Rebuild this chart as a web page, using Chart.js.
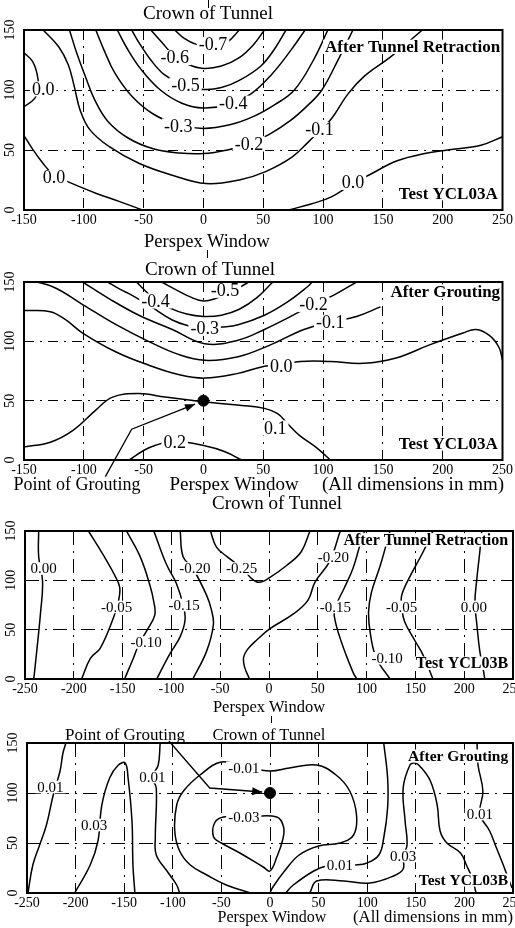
<!DOCTYPE html>
<html lang="en">
<head>
<meta charset="UTF-8">
<title>Settlement contours YCL03A / YCL03B</title>
<script src="https://cdn.jsdelivr.net/npm/chart.js@4.4.1/dist/chart.umd.min.js"></script>
<style>
    html, body { margin: 0; padding: 0; background: #fff; overflow: hidden; width: 515px; height: 928px; }
    canvas { position: absolute; left: 0; }
    .note { position: absolute; font-family: "Liberation Serif", "Times New Roman", serif; color: #000; white-space: nowrap; transform: translate(-50%, -50%); }
    .mark { position: absolute; width: 1px; background: #000; }
</style>
</head>
<body>
<canvas id="c1" width="515" height="248" style="top:0"></canvas>
<canvas id="c2" width="515" height="240" style="top:250px"></canvas>
<canvas id="c3" width="540" height="225" style="top:490px"></canvas>
<canvas id="c4" width="540" height="213" style="top:715px"></canvas>

<div class="mark" style="left:208px; top:0; height:8px"></div>
<div class="note" style="left:208px; top:13px; font-size:19px">Crown of Tunnel</div>
<div class="note" style="left:207px; top:241px; font-size:18.5px">Perspex Window</div>
<div class="mark" style="left:207px; top:250px; height:8px"></div>
<div class="note" style="left:210px; top:269px; font-size:19px">Crown of Tunnel</div>
<div class="note" style="left:77px; top:484px; font-size:18px">Point of Grouting</div>
<div class="note" style="left:234px; top:484px; font-size:19px">Perspex Window</div>
<div class="note" style="left:413px; top:484px; font-size:19px">(All dimensions in mm)</div>
<div class="mark" style="left:269px; top:491px; height:6px"></div>
<div class="note" style="left:277px; top:503px; font-size:19px">Crown of Tunnel</div>
<div class="note" style="left:269px; top:707px; font-size:16.5px">Perspex Window</div>
<div class="mark" style="left:271px; top:716px; height:7px"></div>
<div class="note" style="left:125px; top:735px; font-size:17px">Point of Grouting</div>
<div class="note" style="left:269px; top:735px; font-size:16.5px">Crown of Tunnel</div>
<div class="note" style="left:272px; top:917px; font-size:16px">Perspex Window</div>
<div class="note" style="left:433px; top:917px; font-size:16.7px">(All dimensions in mm)</div>

<script>
    // tick labels (mm)
    const xTicksA = [-150, -100, -50, 0, 50, 100, 150, 200, 250];
    const xTicksB = [-250, -200, -150, -100, -50, 0, 50, 100, 150, 200, 250];
    const yTicks = [0, 50, 100, 150];

    // ---- YCL03A, after tunnel retraction: contour levels and traced lines [x, y] in mm
    const p1Levels = [-0.7, -0.6, -0.5, -0.4, -0.3, -0.2, -0.1, 0.0, 0.0, 0.0];
    const p1Lines = [
        [[-24,150],[-16,143],[-6,138],[8,136],[20,140],[30,150]],
        [[-44,150],[-35,140],[-24,128],[-12,121],[0,118],[15,120],[30,127],[42,138],[51,150]],
        [[-60,150],[-53,138],[-44,125],[-33,113],[-17,104],[0,100.5],[15,102],[30,108],[48,120],[60,135],[69,150]],
        [[-72,150],[-64,135],[-52,117],[-36,100],[-18,89],[0,85],[22,88],[40,97],[57,113],[73,133],[85,150]],
        [[-90,150],[-83,133],[-74,114],[-60,95],[-42,80],[-21,71],[0,68],[22,71],[42,78],[60,88],[76,100],[92,125],[104,150]],
        [[-112,150],[-106,131],[-99,112],[-91,92],[-80,74],[-63,60],[-42,51],[-20,47.5],[0,47],[20,50],[38,55],[55,63],[72,74],[87,87],[99,100],[113,126],[125,150]],
        [[-134,150],[-121,136],[-113,121],[-108,103],[-103,83],[-95,67],[-79,53],[-54,39],[-26,29],[2,22],[30,25],[52,32],[74,44],[88,57],[98,67],[107,76],[121,97],[135,112],[157,128],[183,150]],
        [[-150,131],[-143,124],[-139,113],[-138,101],[-141,93],[-150,86]],
        [[-150,62],[-143,51],[-135,40],[-125,29],[-112,23],[-90,14],[-70,7],[-51,0]],
        [[71,0],[90,5],[107,11],[125,22],[140,30],[162,41],[185,47],[204,50],[232,54],[250,61]]
    ];
    const p1LabelAt = [[8,138],[-24,127],[-15,104],[25,89],[-21,70],[38,55],[97,67],[-134,101],[-125,27],[125,23]];

    // ---- YCL03A, after grouting
    const p2Levels = [-0.5, -0.4, -0.3, -0.2, -0.1, 0.0, 0.1, 0.2];
    const p2Lines = [
        [[-35,150],[-22,143],[-10,137],[0,134],[10,136],[21,141],[31,146],[38,150]],
        [[-56,150],[-48,142],[-40,135],[-28,128],[-14,123],[0,121],[15,122],[30,127],[45,137],[58,150]],
        [[-80,150],[-70,144],[-60,139],[-45,130],[-26,118],[-12,113],[1,111],[15,112],[29,114],[51,122],[70,133],[87,146],[91,150]],
        [[-101,150],[-79,136],[-54,122],[-26,110],[1,98],[29,101],[51,110],[73,121],[92,131],[109,139],[128,150]],
        [[-150,152],[-126,146],[-101,131],[-73,114],[-46,100],[-21,89],[1,84],[29,87],[56,97],[84,110],[106,116],[128,121],[148,129]],
        [[-150,126],[-128,125],[-115,118],[-101,107],[-73,91],[-46,80],[-21,72],[1,69],[29,73],[51,79],[65,80],[81,83],[106,83],[134,81.5],[161,86],[189,97],[217,107],[228,110],[239,105],[247,95],[250,84]],
        [[-150,11],[-128,15],[-109,25],[-90,42],[-76,53],[-54,56],[-32,53],[-12,50.5],[0,49],[10,48],[32,46],[51,43.5],[62,39],[70,31],[80,21],[95,10],[106,0]],
        [[-62,0],[-50,8],[-40,12.5],[-24,15.5],[1,12],[18,7],[32,0]]
    ];
    const p2LabelAt = [[18,143],[-40,134],[1,111],[92,131],[106,116],[65,79],[60,27],[-24,15]];
    const p2Grout = [[0, 50]];
    const p2Arrow = [[-82,-14],[-60,26],[-7,47]];

    // ---- YCL03B, after tunnel retraction
    const p3Levels = [0.0, -0.05, -0.10, -0.15, -0.20, -0.25, -0.20, -0.15, -0.10, -0.05, 0.0];
    const p3Lines = [
        [[-236,150],[-236,124],[-232,99],[-234,68],[-238,28],[-241,0]],
        [[-185,150],[-170,126],[-158,105],[-153,93],[-154,80],[-159,63],[-173,31],[-183,21],[-192,0]],
        [[-146,150],[-132,124],[-122,95],[-118,78],[-117,65],[-124,51],[-133,36],[-139,21],[-148,0]],
        [[-118,150],[-105,116],[-95,97],[-88,75],[-86,60],[-91,43],[-103,23],[-115,0]],
        [[-91,150],[-88,124],[-78,112],[-64,85],[-59,70],[-57,55],[-64,28],[-78,0]],
        [[-60,150],[-54,134],[-43,124],[-27,112],[-18,102],[-10,98],[1,103],[18,115],[33,129],[42,150]],
        [[-20,0],[-25,12],[-26,22],[-22,30],[-12,40],[1,51],[25,66],[40,80],[47,98],[62,119],[73,150]],
        [[98,150],[93,135],[86,112],[77,92],[68,73],[67,63],[74,38],[86,7],[90,0]],
        [[124,150],[122,143],[114,115],[105,88],[102,68],[104,45],[110,21],[124,0]],
        [[168,150],[158,129],[145,105],[136,85],[136,73],[139,58],[150,38],[158,24],[168,0]],
        [[218,150],[216,129],[213,102],[211,78],[213,55],[216,28],[220,7],[221,0]]
    ];
    const p3LabelAt = [[-231,112],[-156,73],[-126,37],[-87,75],[-76,112],[-28,112],[66,124],[68,73],[121,21],[136,73],[210,73]];

    // ---- YCL03B, after grouting
    const p4Levels = [0.01, 0.03, 0.01, -0.01, -0.03, 0.01, 0.03, 0.01];
    const p4Lines = [
        [[-210,150],[-213,140],[-216,122],[-223,98],[-230,68],[-237,48],[-244,28],[-249,0]],
        [[-201,0],[-185,28],[-177,52],[-173,88],[-165,115],[-156,128],[-149,130],[-146,115],[-142,72],[-141,28],[-139,0]],
        [[-113,150],[-115,128],[-121,116],[-117,105],[-118,55],[-117,38],[-106,22],[-96,8],[-93,0]],
        [[-20,0],[-45,8],[-65,18],[-82,28],[-93,42],[-98,62],[-96,88],[-89,102],[-72,118],[-50,131],[-26,126],[0,122],[20,125],[48,128],[68,118],[82,102],[89,78],[86,58],[72,50],[50,47],[30,38],[15,22],[3,6],[0,0]],
        [[-24,76],[-48,76],[-57,70],[-58,56],[-50,50],[-31,40],[-7,26],[0,22],[7,36],[13,53],[14,66],[7,76],[-24,76]],
        [[16,0],[24,8],[45,22],[58,27],[72,28],[88,28],[100,30],[112,38],[117,55],[121,85],[121,115],[117,150]],
        [[41,0],[48,12],[76,12],[103,10],[127,17],[137,24],[137,37],[141,48],[139,72],[137,105],[144,128],[149,130],[154,127],[165,112],[172,88],[175,62],[182,50],[196,40],[202,28],[208,15],[212,0]],
        [[213,150],[214,128],[219,102],[216,79],[226,62],[233,45],[240,28],[245,15],[249,5]]
    ];
    const p4LabelAt = [[-226,106],[-181,68],[-121,116],[-27,125],[-27,76],[72,28],[137,37],[216,79]];
    const p4Grout = [[0, 100]];
    const p4Arrow = [[-104,152],[-62,105],[-8,101]];

    Chart.defaults.font.family = '"Liberation Serif", "Times New Roman", serif';
    Chart.defaults.color = '#000';

    const decor = {
        id: 'decor',
        afterDatasetsDraw(chart, args, o) {
            const {ctx, chartArea: a, scales: {x, y}} = chart;
            ctx.save();
            ctx.textAlign = 'center';
            ctx.textBaseline = 'middle';
            ctx.font = o.labelSize + 'px "Liberation Serif", serif';
            o.labels.forEach(l => {
                const px = x.getPixelForValue(l.x), py = y.getPixelForValue(l.y);
                const w = ctx.measureText(l.text).width;
                ctx.fillStyle = '#fff';
                ctx.fillRect(px - w / 2 - 2, py - o.labelSize * 0.42, w + 4, o.labelSize * 0.84);
                ctx.fillStyle = '#000';
                ctx.fillText(l.text, px, py + 1);
            });
            ctx.font = 'bold ' + o.noteSize + 'px "Liberation Serif", serif';
            ctx.textAlign = 'right';
            o.notes.forEach(n => {
                const px = x.getPixelForValue(n.x), py = y.getPixelForValue(n.y);
                const w = ctx.measureText(n.text).width;
                ctx.fillStyle = '#fff';
                ctx.fillRect(px - w - 2, py - o.noteSize * 0.42, w + 4, o.noteSize * 0.84);
                ctx.fillStyle = '#000';
                ctx.fillText(n.text, px, py + 1);
            });
            if (o.arrow) {
                const pts = o.arrow.map(p => [x.getPixelForValue(p[0]), y.getPixelForValue(p[1])]);
                ctx.strokeStyle = '#000';
                ctx.lineWidth = 1.3;
                ctx.beginPath();
                pts.forEach((p, i) => i ? ctx.lineTo(p[0], p[1]) : ctx.moveTo(p[0], p[1]));
                ctx.stroke();
                const [x1, y1] = pts[pts.length - 2], [x2, y2] = pts[pts.length - 1];
                const ang = Math.atan2(y2 - y1, x2 - x1);
                ctx.beginPath();
                ctx.moveTo(x2, y2);
                ctx.lineTo(x2 - 10 * Math.cos(ang) + 4 * Math.sin(ang), y2 - 10 * Math.sin(ang) - 4 * Math.cos(ang));
                ctx.lineTo(x2 - 10 * Math.cos(ang) - 4 * Math.sin(ang), y2 - 10 * Math.sin(ang) + 4 * Math.cos(ang));
                ctx.closePath();
                ctx.fillStyle = '#000';
                ctx.fill();
            }
            ctx.lineWidth = 2;
            ctx.strokeStyle = '#000';
            ctx.strokeRect(a.left, a.top, a.right - a.left, a.bottom - a.top);
            ctx.restore();
        }
    };

    function pts(arr) { return arr.map(p => ({x: p[0], y: p[1]})); }

    function gridColor(ticks) {
        return c => (c.tick && (c.tick.value === ticks[0] || c.tick.value === ticks[ticks.length - 1])) ? 'rgba(0,0,0,0)' : '#000';
    }

    function makePanel(id, p) {
        const datasets = p.lines.map(line => ({
            data: pts(line), showLine: true, borderColor: '#000', borderWidth: 1.5,
            pointRadius: 0, tension: 0.4, fill: false
        }));
        if (p.grout) {
            datasets.push({data: pts(p.grout), showLine: false, pointRadius: 5.5, pointBackgroundColor: '#000', pointBorderColor: '#000'});
        }
        const labels = p.levels.map((v, i) => ({text: v.toFixed(p.dec), x: p.labelAt[i][0], y: p.labelAt[i][1]}));
        const cv = document.getElementById(id);
        const W = cv.width, H = cv.height;
        return new Chart(cv, {
            type: 'scatter',
            data: {datasets: datasets},
            options: {
                responsive: false, animation: false, devicePixelRatio: 1,
                layout: {padding: {top: p.area.top, right: W - p.area.right, left: 0, bottom: 0}},
                plugins: {
                    legend: {display: false}, tooltip: {enabled: false},
                    decor: {labels: labels, notes: p.notes, arrow: p.arrow, labelSize: p.labelSize, noteSize: p.noteSize}
                },
                scales: {
                    x: {
                        type: 'linear', min: p.xTicks[0], max: p.xTicks[p.xTicks.length - 1],
                        afterBuildTicks: s => { s.ticks = p.xTicks.map(v => ({value: v})); },
                        afterFit: s => { s.height = H - p.area.bottom; },
                        grid: {color: gridColor(p.xTicks), lineWidth: 1, drawTicks: false},
                        border: {display: false, dash: p.dash},
                        ticks: {font: {size: 14}, padding: 2, maxRotation: 0, autoSkip: false}
                    },
                    y: {
                        type: 'linear', min: 0, max: 150,
                        afterBuildTicks: s => { s.ticks = yTicks.map(v => ({value: v})); },
                        afterFit: s => { s.width = p.area.left; },
                        grid: {color: gridColor(yTicks), lineWidth: 1, drawTicks: false},
                        border: {display: false, dash: p.dash},
                        ticks: {font: {size: 14}, padding: 3, minRotation: 90, maxRotation: 90, crossAlign: 'center'}
                    }
                }
            },
            plugins: [decor]
        });
    }

    makePanel('c1', {
        levels: p1Levels, lines: p1Lines, labelAt: p1LabelAt, dec: 1, xTicks: xTicksA,
        area: {left: 24, right: 505, top: 30, bottom: 210}, dash: [10, 6, 2, 6], labelSize: 18, noteSize: 17,
        notes: [{text: 'After Tunnel Retraction', x: 248, y: 136}, {text: 'Test YCL03A', x: 246, y: 14}]
    });
    makePanel('c2', {
        levels: p2Levels, lines: p2Lines, labelAt: p2LabelAt, dec: 1, xTicks: xTicksA,
        area: {left: 24, right: 507, top: 32, bottom: 210}, dash: [10, 6, 2, 6], labelSize: 18, noteSize: 17,
        grout: p2Grout, arrow: p2Arrow,
        notes: [{text: 'After Grouting', x: 248, y: 142}, {text: 'Test YCL03A', x: 246, y: 14}]
    });
    makePanel('c3', {
        levels: p3Levels, lines: p3Lines, labelAt: p3LabelAt, dec: 2, xTicks: xTicksB,
        area: {left: 25, right: 513, top: 41, bottom: 189}, dash: [14, 6, 2, 6], labelSize: 15, noteSize: 16,
        notes: [{text: 'After Tunnel Retraction', x: 245, y: 141}, {text: 'Test YCL03B', x: 245, y: 16}]
    });
    makePanel('c4', {
        levels: p4Levels, lines: p4Lines, labelAt: p4LabelAt, dec: 2, xTicks: xTicksB,
        area: {left: 27, right: 513, top: 28, bottom: 178}, dash: [14, 6, 2, 6], labelSize: 15, noteSize: 15.5,
        grout: p4Grout, arrow: p4Arrow,
        notes: [{text: 'After Grouting', x: 245, y: 137}, {text: 'Test YCL03B', x: 245, y: 13}]
    });
</script>
</body>
</html>
